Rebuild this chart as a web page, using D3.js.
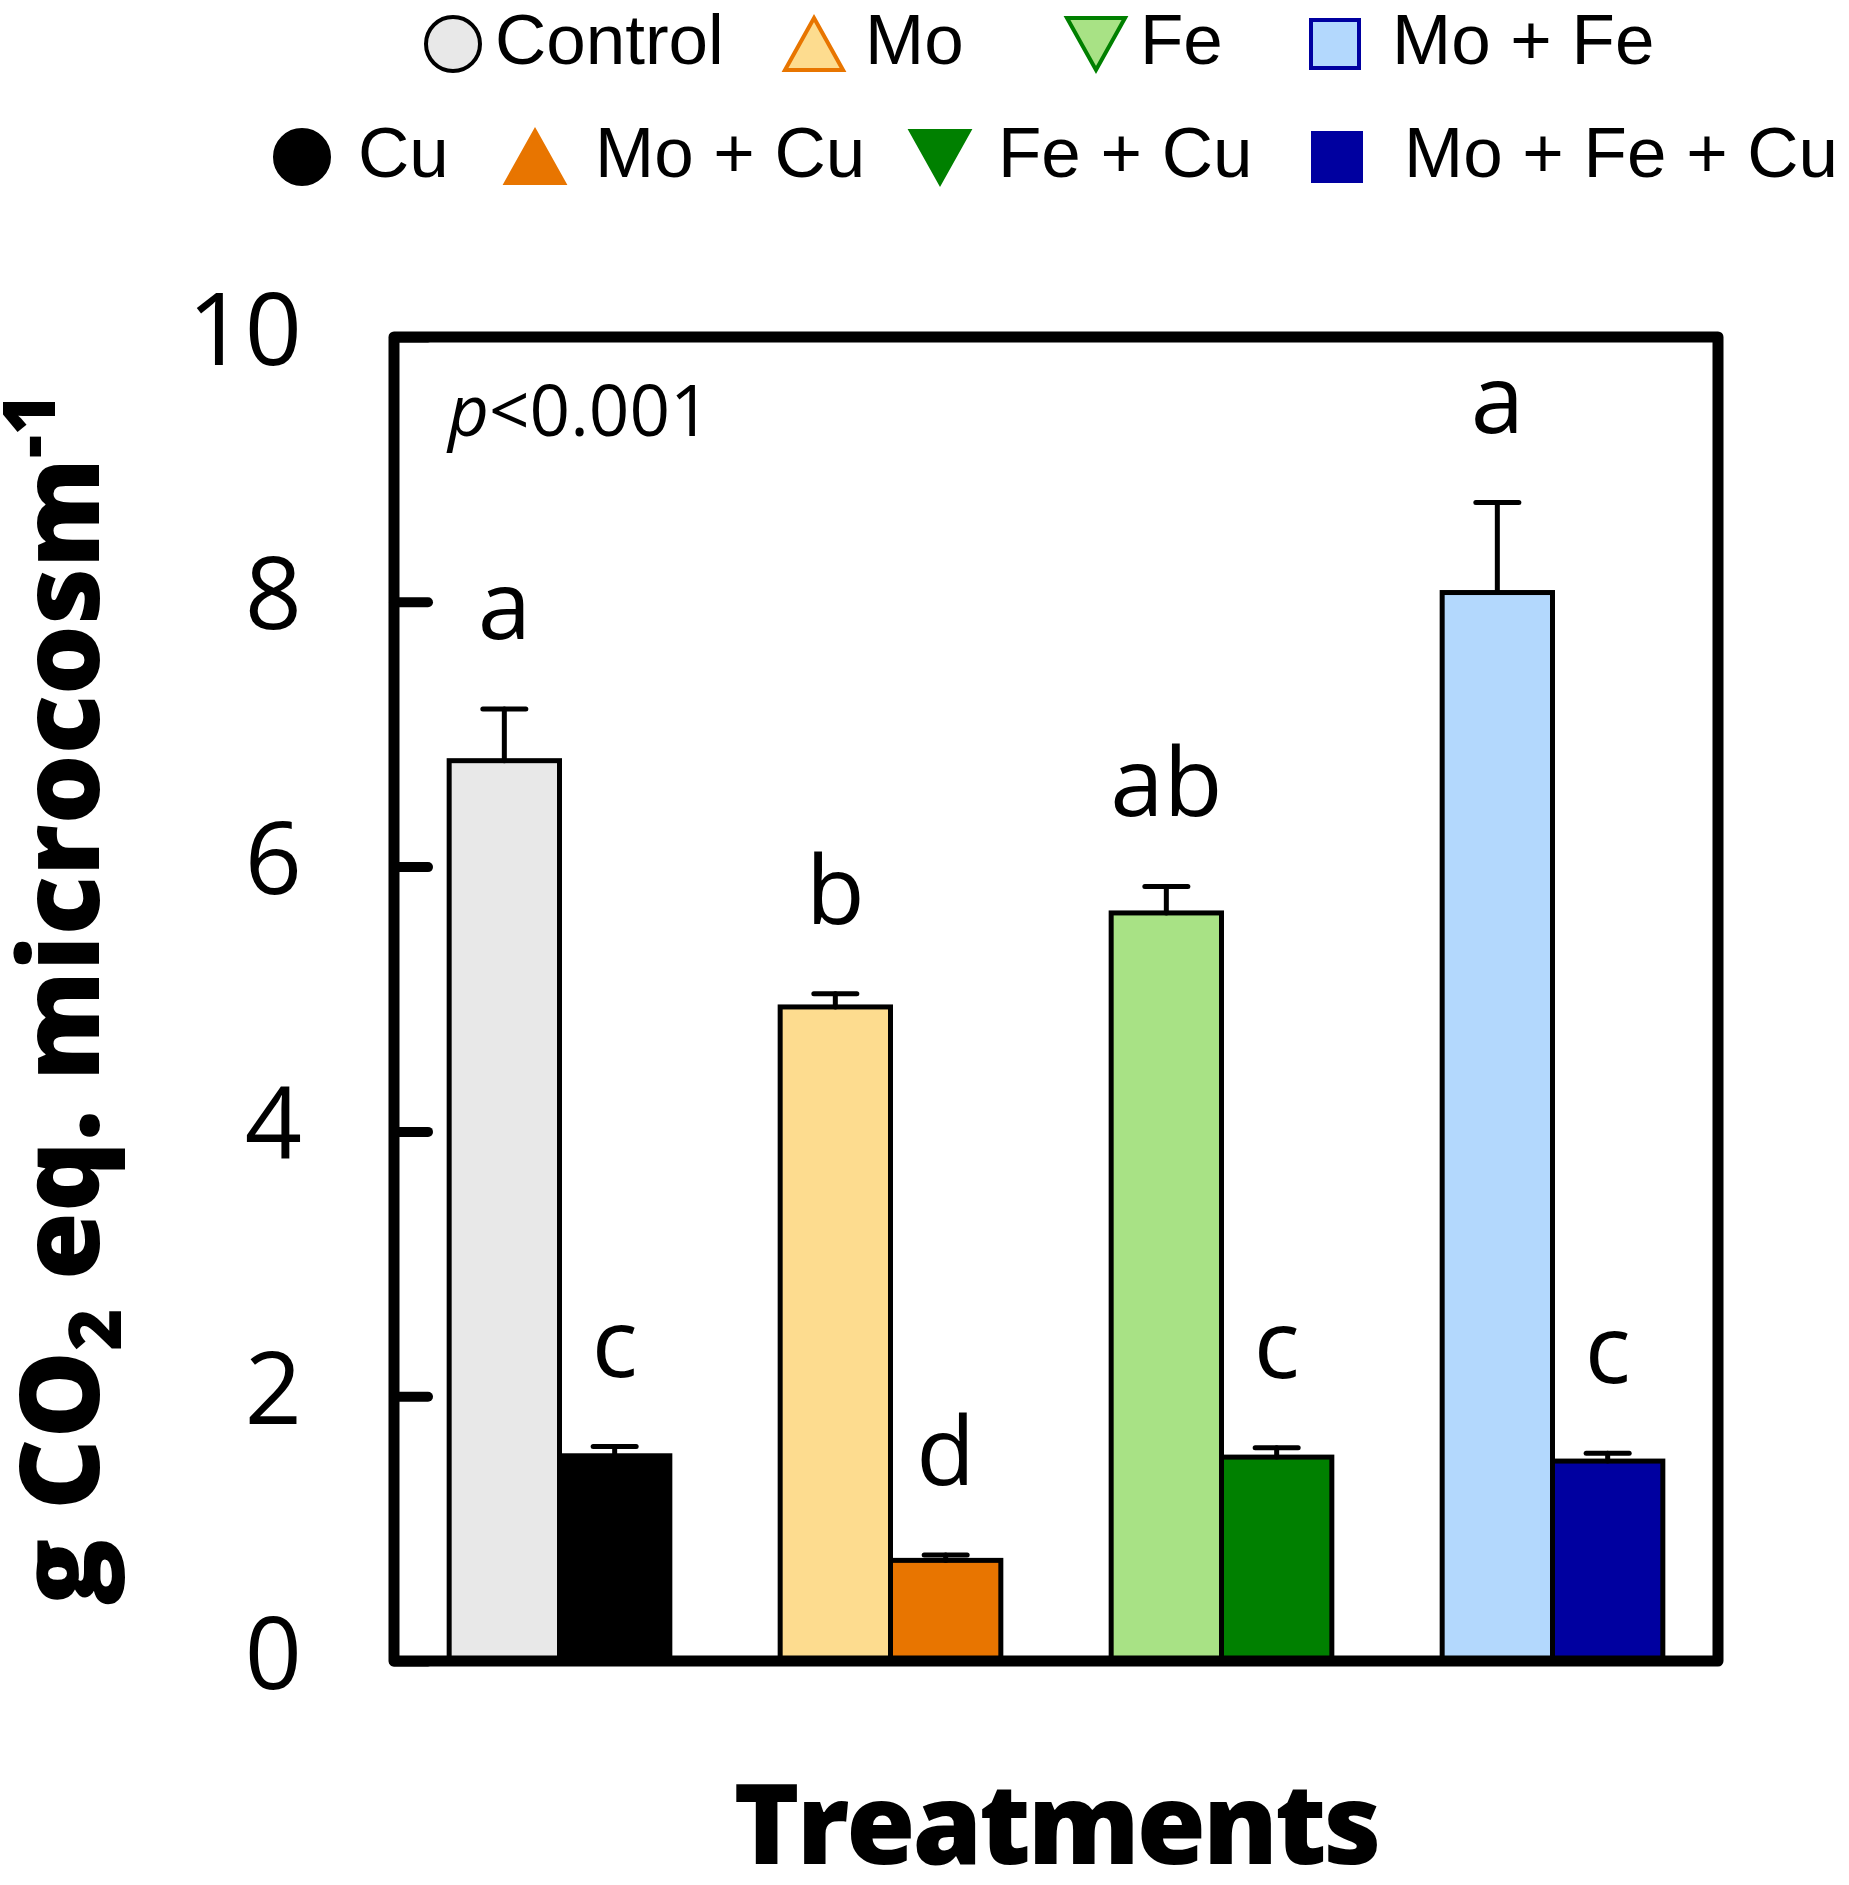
<!DOCTYPE html>
<html>
<head>
<meta charset="utf-8">
<script src="https://cdn.jsdelivr.net/npm/d3@7"></script>
<style>
  html, body { margin: 0; padding: 0; background: #fff; }
  svg { display: block; }
</style>
</head>
<body>
<div id="chart"></div>
<script>
// GHG emissions per microcosm, by treatment, with and without Cu

const groups = ["Control", "Mo", "Fe", "Mo + Fe"];
const subgroups = ["noCu", "Cu"];
const seriesNames = ["Control", "Cu", "Mo", "Mo + Cu", "Fe", "Fe + Cu", "Mo + Fe", "Mo + Fe + Cu"];
const means = [6.80, 1.55, 4.94, 0.76, 5.65, 1.54, 8.07, 1.51];
const errors = [0.39, 0.07, 0.10, 0.04, 0.20, 0.07, 0.68, 0.06];
const letters = ["a", "c", "b", "d", "ab", "c", "a", "c"];
const yTicks = [0, 2, 4, 6, 8, 10];

// styling (not data)
const fills = ["#e8e8e8", "#000000", "#fddc8f", "#e87500", "#a8e285", "#008000", "#b3d8fd", "#0000a0"];
const legendStroke = ["#000000", "#000000", "#e87500", "#e87500", "#008000", "#008000", "#0000a0", "#0000a0"];
const legendShape = ["circle", "circle", "up", "up", "down", "down", "square", "square"];

const width = 1849, height = 1885;
const frame = {left: 394, right: 1718, top: 337, bottom: 1661};

const svg = d3.select("#chart").append("svg")
  .attr("width", width)
  .attr("height", height)
  .style("background", "#fff");

const bars = seriesNames.map((name, i) => ({
  name,
  group: groups[Math.floor(i / 2)],
  sub: subgroups[i % 2],
  mean: means[i],
  err: errors[i],
  letter: letters[i],
  fill: fills[i]
}));

const x0 = d3.scaleBand()
  .domain(groups)
  .range([frame.left, frame.right])
  .padding(0);

const x1 = d3.scaleBand()
  .domain(subgroups)
  .range([0, x0.bandwidth()])
  .paddingInner(0)
  .paddingOuter(0.5);

const y = d3.scaleLinear()
  .domain([0, 10])
  .range([frame.bottom, frame.top]);

// bars
svg.append("g")
  .selectAll("rect")
  .data(bars)
  .join("rect")
  .attr("x", d => x0(d.group) + x1(d.sub))
  .attr("y", d => y(d.mean))
  .attr("width", x1.bandwidth())
  .attr("height", d => y(0) - y(d.mean))
  .attr("fill", d => d.fill)
  .attr("stroke", "#000")
  .attr("stroke-width", 5);

// error bars (upper only)
const capW = 43;
const eb = svg.append("g")
  .attr("stroke", "#000")
  .attr("stroke-width", 5)
  .attr("stroke-linecap", "round");
const cx = d => x0(d.group) + x1(d.sub) + x1.bandwidth() / 2;
eb.selectAll("line.v")
  .data(bars)
  .join("line")
  .attr("class", "v")
  .attr("x1", cx).attr("x2", cx)
  .attr("y1", d => y(d.mean)).attr("y2", d => y(d.mean + d.err));
eb.selectAll("line.cap")
  .data(bars)
  .join("line")
  .attr("class", "cap")
  .attr("x1", d => cx(d) - capW / 2).attr("x2", d => cx(d) + capW / 2)
  .attr("y1", d => y(d.mean + d.err)).attr("y2", d => y(d.mean + d.err));

// significance letters
svg.append("g")
  .selectAll("text")
  .data(bars)
  .join("text")
  .attr("x", cx)
  .attr("y", d => y(d.mean + d.err) - 70)
  .attr("text-anchor", "middle")
  .attr("font-family", "'Open Sans', sans-serif")
  .attr("font-size", 96)
  .attr("fill", "#000")
  .text(d => d.letter);

// y axis: inward ticks, labels outside
const yAxis = svg.append("g")
  .attr("transform", `translate(${frame.left},0)`)
  .call(d3.axisLeft(y).tickValues(yTicks).tickSize(-34).tickPadding(92).tickFormat(d3.format("d")));
yAxis.select(".domain").remove();
yAxis.selectAll(".tick line")
  .attr("stroke", "#000")
  .attr("stroke-width", 10)
  .attr("stroke-linecap", "round");
yAxis.selectAll(".tick text")
  .attr("font-family", "'Open Sans', sans-serif")
  .attr("font-size", 100)
  .attr("fill", "#000")
  .attr("dy", "0.27em");

// frame
svg.append("rect")
  .attr("x", frame.left)
  .attr("y", frame.top)
  .attr("width", frame.right - frame.left)
  .attr("height", frame.bottom - frame.top)
  .attr("fill", "none")
  .attr("stroke", "#000")
  .attr("stroke-width", 11)
  .attr("stroke-linejoin", "round");

// p value
const pText = svg.append("text")
  .attr("x", 448)
  .attr("y", 436)
  .attr("font-family", "'Open Sans', sans-serif")
  .attr("font-size", 71)
  .attr("fill", "#000");
pText.append("tspan").attr("font-style", "italic").text("p");
pText.append("tspan").text("<0.001");

// x axis title
svg.append("text")
  .attr("x", (frame.left + frame.right) / 2)
  .attr("y", 1864)
  .attr("text-anchor", "middle")
  .attr("font-family", "'Open Sans', sans-serif")
  .attr("font-weight", 800)
  .attr("font-size", 112)
  .attr("letter-spacing", -3)
  .attr("fill", "#000")
  .text("Treatments");

// y axis title
const yTitle = svg.append("text")
  .attr("transform", `translate(99,${(frame.top + frame.bottom) / 2}) rotate(-90)`)
  .attr("text-anchor", "middle")
  .attr("font-family", "'Open Sans', sans-serif")
  .attr("font-weight", 800)
  .attr("font-size", 110)
  .attr("fill", "#000");
yTitle.append("tspan").text("g CO");
yTitle.append("tspan").attr("font-size", 72).attr("dy", 22).text("2");
yTitle.append("tspan").attr("dy", -22).text(" eq. microcosm");
yTitle.append("tspan").attr("font-size", 72).attr("dy", -44).text("-1");

// legend (layout only; entries come from the series)
const legendOrder = ["Control", "Mo", "Fe", "Mo + Fe", "Cu", "Mo + Cu", "Fe + Cu", "Mo + Fe + Cu"];
const legendMarkX = [453, 814, 1096, 1335, 302, 535, 940, 1337];
const legendTextX = [495, 865, 1140, 1392, 358, 595, 998, 1404];
const legendRowY = [44, 157];

function shapePath(shape) {
  const p = d3.path();
  if (shape === "up") {
    p.moveTo(0, -26); p.lineTo(29, 26); p.lineTo(-29, 26); p.closePath();
  } else if (shape === "down") {
    p.moveTo(-29, -26); p.lineTo(29, -26); p.lineTo(0, 26); p.closePath();
  } else if (shape === "square") {
    p.rect(-24, -24, 48, 48);
  } else {
    p.arc(0, 0, 27, 0, 2 * Math.PI); p.closePath();
  }
  return p.toString();
}

const legendItems = legendOrder.map((name, k) => {
  const i = seriesNames.indexOf(name);
  return {
    name,
    fill: fills[i],
    stroke: legendStroke[i],
    shape: legendShape[i],
    mx: legendMarkX[k],
    tx: legendTextX[k],
    cy: legendRowY[k < 4 ? 0 : 1]
  };
});

const lg = svg.append("g").selectAll("g")
  .data(legendItems)
  .join("g");
lg.append("path")
  .attr("transform", d => `translate(${d.mx},${d.cy})`)
  .attr("d", d => shapePath(d.shape))
  .attr("fill", d => d.fill)
  .attr("stroke", d => d.stroke)
  .attr("stroke-width", 4);
lg.append("text")
  .attr("x", d => d.tx)
  .attr("y", d => d.cy + 20)
  .attr("font-family", "'Liberation Sans', Arial, sans-serif")
  .attr("font-size", 71)
  .attr("fill", "#000")
  .text(d => d.name);
</script>
</body>
</html>
